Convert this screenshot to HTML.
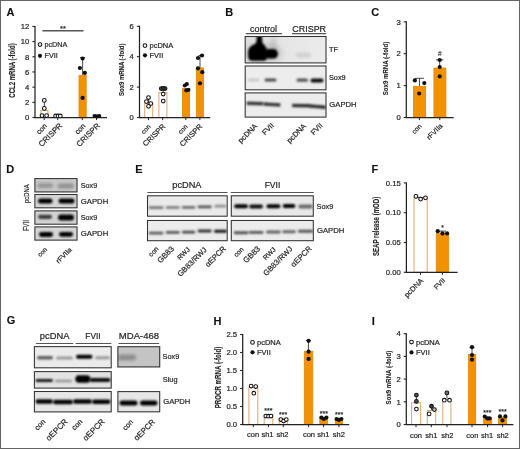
<!DOCTYPE html>
<html><head><meta charset="utf-8"><style>
html,body{margin:0;padding:0;background:#fff;width:520px;height:449px;overflow:hidden}
svg{display:block;font-family:"Liberation Sans", sans-serif;will-change:transform;filter:blur(0.3px)}
</style></head><body>
<svg width="520" height="449" viewBox="0 0 520 449">
<defs><filter id="bl1" x="-50%" y="-100%" width="200%" height="300%"><feGaussianBlur stdDeviation="0.9"/></filter><filter id="bl2" x="-50%" y="-100%" width="200%" height="300%"><feGaussianBlur stdDeviation="1.5"/></filter><filter id="bl3" x="-50%" y="-100%" width="200%" height="300%"><feGaussianBlur stdDeviation="2.5"/></filter><linearGradient id="gTF" x1="0" x2="1" y1="0" y2="0"><stop offset="0" stop-color="#dcdcdc"/><stop offset="0.5" stop-color="#e6e6e6"/><stop offset="1" stop-color="#ececec"/></linearGradient><clipPath id="cp1"><rect x="244.7" y="36.0" width="81.80000000000001" height="27.4"/></clipPath><clipPath id="cp2"><rect x="244.7" y="65.5" width="81.80000000000001" height="24.799999999999997"/></clipPath><clipPath id="cp3"><rect x="244.7" y="92.4" width="81.80000000000001" height="25.19999999999999"/></clipPath><clipPath id="cp4"><rect x="34.4" y="178.1" width="43.1" height="14.300000000000011"/></clipPath><clipPath id="cp5"><rect x="34.4" y="194.0" width="43.1" height="14.300000000000011"/></clipPath><clipPath id="cp6"><rect x="34.4" y="210.4" width="43.1" height="14.299999999999983"/></clipPath><clipPath id="cp7"><rect x="34.4" y="226.4" width="43.1" height="14.199999999999989"/></clipPath><clipPath id="cp8"><rect x="147.0" y="195.3" width="80.69999999999999" height="21.399999999999977"/></clipPath><clipPath id="cp9"><rect x="147.0" y="220.0" width="80.69999999999999" height="21.19999999999999"/></clipPath><clipPath id="cp10"><rect x="230.8" y="195.3" width="83.0" height="21.399999999999977"/></clipPath><clipPath id="cp11"><rect x="230.8" y="220.0" width="83.0" height="21.19999999999999"/></clipPath><clipPath id="cp12"><rect x="33.9" y="346.1" width="77.80000000000001" height="22.19999999999999"/></clipPath><clipPath id="cp13"><rect x="33.9" y="371.1" width="77.80000000000001" height="17.5"/></clipPath><clipPath id="cp14"><rect x="33.9" y="391.0" width="77.80000000000001" height="21.399999999999977"/></clipPath><clipPath id="cp15"><rect x="117.4" y="346.2" width="42.79999999999998" height="21.19999999999999"/></clipPath><clipPath id="cp16"><rect x="117.4" y="391.1" width="42.79999999999998" height="21.19999999999999"/></clipPath></defs>
<rect width="520" height="449" fill="#fff"/>
<rect x="0.5" y="0.5" width="519" height="448" fill="none" stroke="#646464" stroke-width="1"/>
<text x="6.6" y="15.8" font-size="11" text-anchor="start" font-weight="bold" fill="#111" stroke="#111" stroke-width="0.1">A</text>
<line x1="35.0" y1="25.92" x2="35.0" y2="118.1" stroke="#222" stroke-width="1.25"/>
<line x1="32.4" y1="117.5" x2="35.0" y2="117.5" stroke="#222" stroke-width="1.1"/>
<text x="29.4" y="120.25" font-size="7.7" text-anchor="end" fill="#222" stroke="#222" stroke-width="0.2">0</text>
<line x1="32.4" y1="102.32" x2="35.0" y2="102.32" stroke="#222" stroke-width="1.1"/>
<text x="29.4" y="105.07" font-size="7.7" text-anchor="end" fill="#222" stroke="#222" stroke-width="0.2">2</text>
<line x1="32.4" y1="87.14" x2="35.0" y2="87.14" stroke="#222" stroke-width="1.1"/>
<text x="29.4" y="89.89" font-size="7.7" text-anchor="end" fill="#222" stroke="#222" stroke-width="0.2">4</text>
<line x1="32.4" y1="71.96000000000001" x2="35.0" y2="71.96000000000001" stroke="#222" stroke-width="1.1"/>
<text x="29.4" y="74.71000000000001" font-size="7.7" text-anchor="end" fill="#222" stroke="#222" stroke-width="0.2">6</text>
<line x1="32.4" y1="56.78" x2="35.0" y2="56.78" stroke="#222" stroke-width="1.1"/>
<text x="29.4" y="59.53" font-size="7.7" text-anchor="end" fill="#222" stroke="#222" stroke-width="0.2">8</text>
<line x1="32.4" y1="41.599999999999994" x2="35.0" y2="41.599999999999994" stroke="#222" stroke-width="1.1"/>
<text x="29.4" y="44.349999999999994" font-size="7.7" text-anchor="end" fill="#222" stroke="#222" stroke-width="0.2">10</text>
<line x1="32.4" y1="26.42" x2="35.0" y2="26.42" stroke="#222" stroke-width="1.1"/>
<text x="29.4" y="29.17" font-size="7.7" text-anchor="end" fill="#222" stroke="#222" stroke-width="0.2">12</text>
<rect x="41.0" y="110.41" width="7.0" height="7.090000000000003" fill="white" stroke="#DDA56A" stroke-width="1"/>
<rect x="54.5" y="116.482" width="7" height="1.0180000000000007" fill="white" stroke="#DDA56A" stroke-width="1"/>
<rect x="79.0" y="75.39600000000002" width="7.2" height="42.10399999999999" fill="#F39200" stroke="#E2880E" stroke-width="0.8"/>
<rect x="92.9" y="116.98920000000001" width="7.2" height="0.5107999999999947" fill="#F39200" stroke="#E2880E" stroke-width="0.8"/>
<line x1="44.4" y1="100.4225" x2="44.4" y2="109.91" stroke="#1c1c1c" stroke-width="0.8"/>
<line x1="42.4" y1="100.4225" x2="46.4" y2="100.4225" stroke="#1c1c1c" stroke-width="0.8"/>
<line x1="82.6" y1="57.6" x2="82.6" y2="74.99600000000001" stroke="#1c1c1c" stroke-width="0.8"/>
<line x1="80.1" y1="57.6" x2="85.1" y2="57.6" stroke="#1c1c1c" stroke-width="0.8"/>
<line x1="34.4" y1="117.5" x2="107" y2="117.5" stroke="#222" stroke-width="1.25"/>
<line x1="44.2" y1="117.5" x2="44.2" y2="120.1" stroke="#222" stroke-width="1.0"/>
<line x1="57.7" y1="117.5" x2="57.7" y2="120.1" stroke="#222" stroke-width="1.0"/>
<line x1="82.3" y1="117.5" x2="82.3" y2="120.1" stroke="#222" stroke-width="1.0"/>
<line x1="96.5" y1="117.5" x2="96.5" y2="120.1" stroke="#222" stroke-width="1.0"/>
<circle cx="44.3" cy="100.4225" r="1.85" fill="white" stroke="#111" stroke-width="1.05"/>
<circle cx="44.3" cy="108.392" r="1.85" fill="white" stroke="#111" stroke-width="1.05"/>
<circle cx="42" cy="115.6025" r="1.85" fill="white" stroke="#111" stroke-width="1.05"/>
<circle cx="46.6" cy="115.6025" r="1.85" fill="white" stroke="#111" stroke-width="1.05"/>
<circle cx="55.6" cy="115.982" r="1.85" fill="white" stroke="#111" stroke-width="1.05"/>
<circle cx="58" cy="115.982" r="1.85" fill="white" stroke="#111" stroke-width="1.05"/>
<circle cx="60.3" cy="115.982" r="1.85" fill="white" stroke="#111" stroke-width="1.05"/>
<circle cx="82.6" cy="58.5" r="2.1" fill="#111"/>
<circle cx="79.9" cy="68.0" r="2.1" fill="#111"/>
<circle cx="84.8" cy="72.9" r="2.1" fill="#111"/>
<circle cx="82.6" cy="97.9" r="2.1" fill="#111"/>
<circle cx="94.6" cy="115.982" r="2.1" fill="#111"/>
<circle cx="97" cy="116.3615" r="2.1" fill="#111"/>
<circle cx="99.2" cy="115.982" r="2.1" fill="#111"/>
<line x1="42.4" y1="30.8" x2="83.5" y2="30.8" stroke="#555" stroke-width="1.4"/>
<text x="63" y="31.1" font-size="7.5" text-anchor="middle" fill="#222" stroke="#222" stroke-width="0.2">**</text>
<circle cx="40" cy="44.5" r="1.85" fill="white" stroke="#111" stroke-width="1.05"/>
<text x="44.5" y="47.1" font-size="7.2" text-anchor="start" fill="#222" stroke="#222" stroke-width="0.2">pcDNA</text>
<circle cx="40" cy="55.8" r="2.1" fill="#111"/>
<text x="44.5" y="58.4" font-size="7.2" text-anchor="start" fill="#222" stroke="#222" stroke-width="0.2">FVII</text>
<text x="14.6" y="70.5" font-size="8.6" text-anchor="middle" font-weight="bold" transform="rotate(-90 14.6 70.5)" textLength="54.3" lengthAdjust="spacingAndGlyphs" fill="#222" stroke="#222" stroke-width="0.1">CCL2 mRNA (-fold)</text>
<text x="47.5" y="126.4" font-size="7.3" text-anchor="end" transform="rotate(-45 47.5 126.4)" fill="#222" stroke="#222" stroke-width="0.2">con</text>
<text x="62.9" y="126.1" font-size="7.9" text-anchor="end" transform="rotate(-45 62.9 126.1)" fill="#222" stroke="#222" stroke-width="0.2">CRISPR</text>
<text x="86.0" y="126.4" font-size="7.3" text-anchor="end" transform="rotate(-45 86.0 126.4)" fill="#222" stroke="#222" stroke-width="0.2">con</text>
<text x="100.4" y="126.2" font-size="7.85" text-anchor="end" transform="rotate(-45 100.4 126.2)" fill="#222" stroke="#222" stroke-width="0.2">CRISPR</text>
<line x1="139.5" y1="25.80000000000001" x2="139.5" y2="118.1" stroke="#222" stroke-width="1.25"/>
<line x1="136.9" y1="117.5" x2="139.5" y2="117.5" stroke="#222" stroke-width="1.1"/>
<text x="133.9" y="120.25" font-size="7.7" text-anchor="end" fill="#222" stroke="#222" stroke-width="0.2">0</text>
<line x1="136.9" y1="87.1" x2="139.5" y2="87.1" stroke="#222" stroke-width="1.1"/>
<text x="133.9" y="89.85" font-size="7.7" text-anchor="end" fill="#222" stroke="#222" stroke-width="0.2">2</text>
<line x1="136.9" y1="56.7" x2="139.5" y2="56.7" stroke="#222" stroke-width="1.1"/>
<text x="133.9" y="59.45" font-size="7.7" text-anchor="end" fill="#222" stroke="#222" stroke-width="0.2">4</text>
<line x1="136.9" y1="26.30000000000001" x2="139.5" y2="26.30000000000001" stroke="#222" stroke-width="1.1"/>
<text x="133.9" y="29.05000000000001" font-size="7.7" text-anchor="end" fill="#222" stroke="#222" stroke-width="0.2">6</text>
<rect x="144.7" y="103.6" width="8.0" height="13.900000000000006" fill="white" stroke="#DDA56A" stroke-width="1"/>
<rect x="158.9" y="92.6" width="8.0" height="24.900000000000006" fill="white" stroke="#DDA56A" stroke-width="1"/>
<rect x="182.4" y="88.5" width="7.2" height="29.000000000000007" fill="#F39200" stroke="#E2880E" stroke-width="0.8"/>
<rect x="196.3" y="67.9" width="7.2999999999999945" height="49.6" fill="#F39200" stroke="#E2880E" stroke-width="0.8"/>
<line x1="148.7" y1="97.0" x2="148.7" y2="103.1" stroke="#1c1c1c" stroke-width="0.8"/>
<line x1="147.2" y1="97.0" x2="150.2" y2="97.0" stroke="#1c1c1c" stroke-width="0.8"/>
<line x1="163.2" y1="88.3" x2="163.2" y2="92.1" stroke="#1c1c1c" stroke-width="0.8"/>
<line x1="161.7" y1="88.3" x2="164.7" y2="88.3" stroke="#1c1c1c" stroke-width="0.8"/>
<line x1="200.0" y1="55.5" x2="200.0" y2="67.5" stroke="#1c1c1c" stroke-width="0.8"/>
<line x1="198.5" y1="55.5" x2="201.5" y2="55.5" stroke="#1c1c1c" stroke-width="0.8"/>
<line x1="138.9" y1="117.5" x2="210.2" y2="117.5" stroke="#222" stroke-width="1.25"/>
<line x1="148.5" y1="117.5" x2="148.5" y2="120.1" stroke="#222" stroke-width="1.0"/>
<line x1="162.7" y1="117.5" x2="162.7" y2="120.1" stroke="#222" stroke-width="1.0"/>
<line x1="185.8" y1="117.5" x2="185.8" y2="120.1" stroke="#222" stroke-width="1.0"/>
<line x1="199.9" y1="117.5" x2="199.9" y2="120.1" stroke="#222" stroke-width="1.0"/>
<circle cx="148.5" cy="97.5" r="1.85" fill="white" stroke="#111" stroke-width="1.05"/>
<circle cx="146.4" cy="101.6" r="1.85" fill="white" stroke="#111" stroke-width="1.05"/>
<circle cx="150.8" cy="103.6" r="1.85" fill="white" stroke="#111" stroke-width="1.05"/>
<circle cx="148.5" cy="106.3" r="1.85" fill="white" stroke="#111" stroke-width="1.05"/>
<circle cx="161.3" cy="88.6" r="1.85" fill="#555" stroke="#111" stroke-width="1.05"/>
<circle cx="165.1" cy="88.6" r="1.85" fill="#555" stroke="#111" stroke-width="1.05"/>
<circle cx="163.2" cy="88.3" r="1.85" fill="#333" stroke="#111" stroke-width="1.05"/>
<circle cx="163.2" cy="94" r="1.85" fill="white" stroke="#111" stroke-width="1.05"/>
<circle cx="163.2" cy="101" r="1.85" fill="white" stroke="#111" stroke-width="1.05"/>
<circle cx="184.8" cy="85.5" r="2.1" fill="#111"/>
<circle cx="186.8" cy="84" r="2.1" fill="#111"/>
<circle cx="186.2" cy="90.3" r="2.1" fill="#111"/>
<circle cx="188.4" cy="89.8" r="2.1" fill="#111"/>
<circle cx="198" cy="58" r="2.1" fill="#111"/>
<circle cx="202" cy="55.5" r="2.1" fill="#111"/>
<circle cx="198" cy="68.3" r="2.1" fill="#111"/>
<circle cx="202.3" cy="72.2" r="2.1" fill="#111"/>
<circle cx="200" cy="83.3" r="2.1" fill="#111"/>
<circle cx="145" cy="45.6" r="1.85" fill="white" stroke="#111" stroke-width="1.05"/>
<text x="149.5" y="48.2" font-size="7.5" text-anchor="start" fill="#222" stroke="#222" stroke-width="0.2">pcDNA</text>
<circle cx="145" cy="55.3" r="2.1" fill="#111"/>
<text x="149.5" y="57.9" font-size="7.5" text-anchor="start" fill="#222" stroke="#222" stroke-width="0.2">FVII</text>
<text x="124.1" y="69.7" font-size="7.6" text-anchor="middle" font-weight="bold" transform="rotate(-90 124.1 69.7)" textLength="52.4" lengthAdjust="spacingAndGlyphs" fill="#222" stroke="#222" stroke-width="0.1">Sox9 mRNA (-fold)</text>
<text x="151.1" y="127.1" font-size="6.4" text-anchor="end" transform="rotate(-45 151.1 127.1)" fill="#222" stroke="#222" stroke-width="0.2">con</text>
<text x="165.9" y="126.8" font-size="7.5" text-anchor="end" transform="rotate(-45 165.9 126.8)" fill="#222" stroke="#222" stroke-width="0.2">CRISPR</text>
<text x="188.0" y="127.1" font-size="6.4" text-anchor="end" transform="rotate(-45 188.0 127.1)" fill="#222" stroke="#222" stroke-width="0.2">con</text>
<text x="202.9" y="126.9" font-size="7.5" text-anchor="end" transform="rotate(-45 202.9 126.9)" fill="#222" stroke="#222" stroke-width="0.2">CRISPR</text>
<text x="225.3" y="15.6" font-size="11" text-anchor="start" font-weight="bold" fill="#111" stroke="#111" stroke-width="0.1">B</text>
<text x="263.5" y="31.6" font-size="9" text-anchor="middle" textLength="26.9" lengthAdjust="spacingAndGlyphs" fill="#222" stroke="#222" stroke-width="0.2">control</text>
<text x="309.2" y="31.6" font-size="9" text-anchor="middle" textLength="33.7" lengthAdjust="spacingAndGlyphs" fill="#222" stroke="#222" stroke-width="0.2">CRISPR</text>
<line x1="245.8" y1="33.6" x2="281.9" y2="33.6" stroke="#555" stroke-width="1.1"/>
<line x1="292.0" y1="33.6" x2="326.2" y2="33.6" stroke="#555" stroke-width="1.1"/>
<text x="371.2" y="15.6" font-size="11" text-anchor="start" font-weight="bold" fill="#111" stroke="#111" stroke-width="0.1">C</text>
<line x1="406.3" y1="21.30000000000001" x2="406.3" y2="118.1" stroke="#222" stroke-width="1.25"/>
<line x1="403.7" y1="117.5" x2="406.3" y2="117.5" stroke="#222" stroke-width="1.1"/>
<text x="400.7" y="120.25" font-size="7.7" text-anchor="end" fill="#222" stroke="#222" stroke-width="0.2">0</text>
<line x1="403.7" y1="85.6" x2="406.3" y2="85.6" stroke="#222" stroke-width="1.1"/>
<text x="400.7" y="88.35" font-size="7.7" text-anchor="end" fill="#222" stroke="#222" stroke-width="0.2">1</text>
<line x1="403.7" y1="53.7" x2="406.3" y2="53.7" stroke="#222" stroke-width="1.1"/>
<text x="400.7" y="56.45" font-size="7.7" text-anchor="end" fill="#222" stroke="#222" stroke-width="0.2">2</text>
<line x1="403.7" y1="21.80000000000001" x2="406.3" y2="21.80000000000001" stroke="#222" stroke-width="1.1"/>
<text x="400.7" y="24.55000000000001" font-size="7.7" text-anchor="end" fill="#222" stroke="#222" stroke-width="0.2">3</text>
<rect x="413.4" y="86.30000000000001" width="12.2" height="31.199999999999996" fill="#F39200" stroke="#E2880E" stroke-width="0.8"/>
<rect x="433.9" y="68.0" width="12.00000000000001" height="49.50000000000001" fill="#F39200" stroke="#E2880E" stroke-width="0.8"/>
<line x1="419.5" y1="78.3" x2="419.5" y2="85.9" stroke="#1c1c1c" stroke-width="0.8"/>
<line x1="415.0" y1="78.3" x2="424.0" y2="78.3" stroke="#1c1c1c" stroke-width="0.8"/>
<line x1="439.7" y1="59.8" x2="439.7" y2="67.6" stroke="#1c1c1c" stroke-width="0.8"/>
<line x1="436.0" y1="59.8" x2="443.4" y2="59.8" stroke="#1c1c1c" stroke-width="0.8"/>
<line x1="405.7" y1="117.5" x2="453.7" y2="117.5" stroke="#222" stroke-width="1.25"/>
<line x1="419.4" y1="117.5" x2="419.4" y2="120.1" stroke="#222" stroke-width="1.0"/>
<line x1="439.8" y1="117.5" x2="439.8" y2="120.1" stroke="#222" stroke-width="1.0"/>
<circle cx="414.9" cy="80.4" r="2.1" fill="#111"/>
<circle cx="424.3" cy="83.1" r="2.1" fill="#111"/>
<circle cx="419.2" cy="93.5" r="2.1" fill="#111"/>
<circle cx="439.7" cy="60.0" r="2.1" fill="#111"/>
<circle cx="439.7" cy="67.0" r="2.1" fill="#111"/>
<circle cx="439.7" cy="76.4" r="2.1" fill="#111"/>
<text x="439.7" y="56.0" font-size="6.4" text-anchor="middle" fill="#555" stroke="#555" stroke-width="0.2">#</text>
<text x="388.3" y="68.5" font-size="6.9" text-anchor="middle" font-weight="bold" transform="rotate(-90 388.3 68.5)" textLength="53.6" lengthAdjust="spacingAndGlyphs" fill="#222" stroke="#222" stroke-width="0.1">Sox9 mRNA (-fold)</text>
<text x="422.2" y="126.7" font-size="6.75" text-anchor="end" transform="rotate(-45 422.2 126.7)" fill="#222" stroke="#222" stroke-width="0.2">con</text>
<text x="443.2" y="126.4" font-size="7.15" text-anchor="end" transform="rotate(-45 443.2 126.4)" fill="#222" stroke="#222" stroke-width="0.2">rFVIIa</text>
<text x="6.3" y="172.8" font-size="11" text-anchor="start" font-weight="bold" fill="#111" stroke="#111" stroke-width="0.1">D</text>
<text x="135.3" y="172.9" font-size="11" text-anchor="start" font-weight="bold" fill="#111" stroke="#111" stroke-width="0.1">E</text>
<text x="186.9" y="187.7" font-size="9.2" text-anchor="middle" textLength="29.2" lengthAdjust="spacingAndGlyphs" fill="#222" stroke="#222" stroke-width="0.2">pcDNA</text>
<text x="272.5" y="187.5" font-size="9.2" text-anchor="middle" textLength="15.7" lengthAdjust="spacingAndGlyphs" fill="#222" stroke="#222" stroke-width="0.2">FVII</text>
<line x1="147.3" y1="192.5" x2="227.5" y2="192.5" stroke="#555" stroke-width="1.1"/>
<line x1="230.8" y1="192.5" x2="313.8" y2="192.5" stroke="#555" stroke-width="1.1"/>
<text x="371.6" y="172.7" font-size="11" text-anchor="start" font-weight="bold" fill="#111" stroke="#111" stroke-width="0.1">F</text>
<line x1="406.4" y1="182.40000000000003" x2="406.4" y2="272.90000000000003" stroke="#222" stroke-width="1.25"/>
<line x1="403.79999999999995" y1="272.3" x2="406.4" y2="272.3" stroke="#222" stroke-width="1.1"/>
<text x="400.79999999999995" y="275.05" font-size="7.7" text-anchor="end" fill="#222" stroke="#222" stroke-width="0.2">0.00</text>
<line x1="403.79999999999995" y1="242.5" x2="406.4" y2="242.5" stroke="#222" stroke-width="1.1"/>
<text x="400.79999999999995" y="245.25" font-size="7.7" text-anchor="end" fill="#222" stroke="#222" stroke-width="0.2">0.05</text>
<line x1="403.79999999999995" y1="212.70000000000002" x2="406.4" y2="212.70000000000002" stroke="#222" stroke-width="1.1"/>
<text x="400.79999999999995" y="215.45000000000002" font-size="7.7" text-anchor="end" fill="#222" stroke="#222" stroke-width="0.2">0.10</text>
<line x1="403.79999999999995" y1="182.90000000000003" x2="406.4" y2="182.90000000000003" stroke="#222" stroke-width="1.1"/>
<text x="400.79999999999995" y="185.65000000000003" font-size="7.7" text-anchor="end" fill="#222" stroke="#222" stroke-width="0.2">0.15</text>
<rect x="414.0" y="198.0" width="13.199999999999989" height="74.30000000000001" fill="white" stroke="#DDA56A" stroke-width="1"/>
<rect x="436.2" y="233.20000000000002" width="12.50000000000001" height="39.1" fill="#F39200" stroke="#E2880E" stroke-width="0.8"/>
<line x1="405.79999999999995" y1="272.3" x2="457.6" y2="272.3" stroke="#222" stroke-width="1.25"/>
<line x1="420.5" y1="272.3" x2="420.5" y2="274.90000000000003" stroke="#222" stroke-width="1.0"/>
<line x1="442.4" y1="272.3" x2="442.4" y2="274.90000000000003" stroke="#222" stroke-width="1.0"/>
<line x1="420.7" y1="197.4" x2="420.7" y2="198.0" stroke="#1c1c1c" stroke-width="0.8"/>
<line x1="417.7" y1="197.4" x2="423.7" y2="197.4" stroke="#1c1c1c" stroke-width="0.8"/>
<circle cx="415.9" cy="196.3" r="1.85" fill="white" stroke="#111" stroke-width="1.05"/>
<circle cx="420.6" cy="199.1" r="1.85" fill="white" stroke="#111" stroke-width="1.05"/>
<circle cx="425.5" cy="197.8" r="1.85" fill="white" stroke="#111" stroke-width="1.05"/>
<line x1="441.8" y1="231.1" x2="441.8" y2="232.9" stroke="#1c1c1c" stroke-width="0.8"/>
<line x1="437.6" y1="231.1" x2="446.0" y2="231.1" stroke="#1c1c1c" stroke-width="0.8"/>
<circle cx="437.7" cy="231.2" r="2.1" fill="#111"/>
<circle cx="442.5" cy="233.6" r="2.1" fill="#111"/>
<circle cx="447.1" cy="233.4" r="2.1" fill="#111"/>
<text x="442.5" y="229.7" font-size="6.5" text-anchor="middle" fill="#222" stroke="#222" stroke-width="0.2">*</text>
<text x="379.3" y="226.4" font-size="8.5" text-anchor="middle" font-weight="bold" transform="rotate(-90 379.3 226.4)" textLength="59.3" lengthAdjust="spacingAndGlyphs" fill="#222" stroke="#222" stroke-width="0.1">SEAP release (mOD)</text>
<text x="423.8" y="281.3" font-size="7.45" text-anchor="end" transform="rotate(-45 423.8 281.3)" fill="#222" stroke="#222" stroke-width="0.2">pcDNA</text>
<text x="445.7" y="281.0" font-size="6.9" text-anchor="end" transform="rotate(-45 445.7 281.0)" fill="#222" stroke="#222" stroke-width="0.2">FVII</text>
<text x="6.8" y="324.3" font-size="11" text-anchor="start" font-weight="bold" fill="#111" stroke="#111" stroke-width="0.1">G</text>
<text x="54.6" y="338.7" font-size="9.4" text-anchor="middle" textLength="29.6" lengthAdjust="spacingAndGlyphs" fill="#222" stroke="#222" stroke-width="0.2">pcDNA</text>
<text x="93.0" y="338.7" font-size="9.4" text-anchor="middle" textLength="15.4" lengthAdjust="spacingAndGlyphs" fill="#222" stroke="#222" stroke-width="0.2">FVII</text>
<text x="139.0" y="338.7" font-size="9.4" text-anchor="middle" textLength="40.3" lengthAdjust="spacingAndGlyphs" fill="#222" stroke="#222" stroke-width="0.2">MDA-468</text>
<line x1="36.0" y1="343.5" x2="73.2" y2="343.5" stroke="#555" stroke-width="1.1"/>
<line x1="75.7" y1="343.5" x2="111.3" y2="343.5" stroke="#555" stroke-width="1.1"/>
<line x1="118.5" y1="343.5" x2="159.2" y2="343.5" stroke="#555" stroke-width="1.1"/>
<text x="213.5" y="324.5" font-size="11" text-anchor="start" font-weight="bold" fill="#111" stroke="#111" stroke-width="0.1">H</text>
<line x1="242.7" y1="334.0" x2="242.7" y2="425.1" stroke="#222" stroke-width="1.25"/>
<line x1="240.1" y1="424.5" x2="242.7" y2="424.5" stroke="#222" stroke-width="1.1"/>
<text x="237.1" y="427.25" font-size="7.7" text-anchor="end" fill="#222" stroke="#222" stroke-width="0.2">0.0</text>
<line x1="240.1" y1="406.5" x2="242.7" y2="406.5" stroke="#222" stroke-width="1.1"/>
<text x="237.1" y="409.25" font-size="7.7" text-anchor="end" fill="#222" stroke="#222" stroke-width="0.2">0.5</text>
<line x1="240.1" y1="388.5" x2="242.7" y2="388.5" stroke="#222" stroke-width="1.1"/>
<text x="237.1" y="391.25" font-size="7.7" text-anchor="end" fill="#222" stroke="#222" stroke-width="0.2">1.0</text>
<line x1="240.1" y1="370.5" x2="242.7" y2="370.5" stroke="#222" stroke-width="1.1"/>
<text x="237.1" y="373.25" font-size="7.7" text-anchor="end" fill="#222" stroke="#222" stroke-width="0.2">1.5</text>
<line x1="240.1" y1="352.5" x2="242.7" y2="352.5" stroke="#222" stroke-width="1.1"/>
<text x="237.1" y="355.25" font-size="7.7" text-anchor="end" fill="#222" stroke="#222" stroke-width="0.2">2.0</text>
<line x1="240.1" y1="334.5" x2="242.7" y2="334.5" stroke="#222" stroke-width="1.1"/>
<text x="237.1" y="337.25" font-size="7.7" text-anchor="end" fill="#222" stroke="#222" stroke-width="0.2">2.5</text>
<rect x="248.9" y="387.6" width="8.900000000000006" height="36.89999999999998" fill="white" stroke="#DDA56A" stroke-width="1"/>
<rect x="264.2" y="415.1" width="8.600000000000023" height="9.399999999999977" fill="white" stroke="#DDA56A" stroke-width="1"/>
<rect x="279.2" y="418.6" width="8.100000000000023" height="5.899999999999977" fill="white" stroke="#DDA56A" stroke-width="1"/>
<rect x="304.29999999999995" y="351.29999999999995" width="8.50000000000001" height="73.20000000000002" fill="#F39200" stroke="#E2880E" stroke-width="0.8"/>
<rect x="319.79999999999995" y="417.59999999999997" width="7.7" height="6.900000000000011" fill="#F39200" stroke="#E2880E" stroke-width="0.8"/>
<rect x="335.29999999999995" y="418.9" width="7.2" height="5.6" fill="#F39200" stroke="#E2880E" stroke-width="0.8"/>
<line x1="308.4" y1="340.5" x2="308.4" y2="350.9" stroke="#1c1c1c" stroke-width="0.8"/>
<line x1="305.9" y1="340.5" x2="310.9" y2="340.5" stroke="#1c1c1c" stroke-width="0.8"/>
<line x1="242.1" y1="424.5" x2="349.2" y2="424.5" stroke="#222" stroke-width="1.25"/>
<line x1="253.3" y1="424.5" x2="253.3" y2="427.1" stroke="#222" stroke-width="1.0"/>
<line x1="268.5" y1="424.5" x2="268.5" y2="427.1" stroke="#222" stroke-width="1.0"/>
<line x1="283.3" y1="424.5" x2="283.3" y2="427.1" stroke="#222" stroke-width="1.0"/>
<line x1="308.6" y1="424.5" x2="308.6" y2="427.1" stroke="#222" stroke-width="1.0"/>
<line x1="323.6" y1="424.5" x2="323.6" y2="427.1" stroke="#222" stroke-width="1.0"/>
<line x1="338.9" y1="424.5" x2="338.9" y2="427.1" stroke="#222" stroke-width="1.0"/>
<circle cx="251.1" cy="386" r="1.85" fill="white" stroke="#111" stroke-width="1.05"/>
<circle cx="255.7" cy="386.5" r="1.85" fill="white" stroke="#111" stroke-width="1.05"/>
<circle cx="253.8" cy="393.2" r="1.85" fill="white" stroke="#111" stroke-width="1.05"/>
<circle cx="265.8" cy="416" r="1.85" fill="white" stroke="#111" stroke-width="1.05"/>
<circle cx="268.5" cy="416.2" r="1.85" fill="white" stroke="#111" stroke-width="1.05"/>
<circle cx="271" cy="416" r="1.85" fill="white" stroke="#111" stroke-width="1.05"/>
<circle cx="280.8" cy="419.5" r="1.85" fill="white" stroke="#111" stroke-width="1.05"/>
<circle cx="283.6" cy="421" r="1.85" fill="white" stroke="#111" stroke-width="1.05"/>
<circle cx="286.3" cy="419.5" r="1.85" fill="white" stroke="#111" stroke-width="1.05"/>
<circle cx="308.6" cy="340.8" r="2.1" fill="#111"/>
<circle cx="308.6" cy="351.7" r="2.1" fill="#111"/>
<circle cx="308.6" cy="358.9" r="2.1" fill="#111"/>
<circle cx="321.4" cy="417.6" r="2.1" fill="#111"/>
<circle cx="323.8" cy="419" r="2.1" fill="#111"/>
<circle cx="326.4" cy="417.6" r="2.1" fill="#111"/>
<circle cx="336.6" cy="419" r="2.1" fill="#111"/>
<circle cx="338.8" cy="419.9" r="2.1" fill="#111"/>
<circle cx="341.4" cy="419" r="2.1" fill="#111"/>
<text x="268.3" y="413.3" font-size="7" text-anchor="middle" fill="#222" stroke="#222" stroke-width="0.2">***</text>
<text x="283.2" y="416.9" font-size="7" text-anchor="middle" fill="#222" stroke="#222" stroke-width="0.2">***</text>
<text x="323.8" y="415.8" font-size="7" text-anchor="middle" fill="#222" stroke="#222" stroke-width="0.2">***</text>
<text x="339.2" y="417.0" font-size="7" text-anchor="middle" fill="#222" stroke="#222" stroke-width="0.2">***</text>
<circle cx="252.5" cy="342.4" r="1.85" fill="white" stroke="#111" stroke-width="1.05"/>
<text x="257.0" y="345.0" font-size="7.5" text-anchor="start" fill="#222" stroke="#222" stroke-width="0.2">pcDNA</text>
<circle cx="252.5" cy="352.3" r="2.1" fill="#111"/>
<text x="257.0" y="354.90000000000003" font-size="7.5" text-anchor="start" fill="#222" stroke="#222" stroke-width="0.2">FVII</text>
<text x="221.3" y="377.5" font-size="8.5" text-anchor="middle" font-weight="bold" transform="rotate(-90 221.3 377.5)" textLength="61.6" lengthAdjust="spacingAndGlyphs" fill="#222" stroke="#222" stroke-width="0.1">PROCR mRNA (-fold)</text>
<text x="253.1" y="437.4" font-size="7.5" text-anchor="middle" fill="#222" stroke="#222" stroke-width="0.2">con</text>
<text x="267.5" y="437.4" font-size="7.5" text-anchor="middle" fill="#222" stroke="#222" stroke-width="0.2">sh1</text>
<text x="282.5" y="437.4" font-size="7.5" text-anchor="middle" fill="#222" stroke="#222" stroke-width="0.2">sh2</text>
<text x="309" y="437.4" font-size="7.5" text-anchor="middle" fill="#222" stroke="#222" stroke-width="0.2">con</text>
<text x="323.4" y="437.4" font-size="7.5" text-anchor="middle" fill="#222" stroke="#222" stroke-width="0.2">sh1</text>
<text x="338.8" y="437.4" font-size="7.5" text-anchor="middle" fill="#222" stroke="#222" stroke-width="0.2">sh2</text>
<text x="371.7" y="324.6" font-size="11" text-anchor="start" font-weight="bold" fill="#111" stroke="#111" stroke-width="0.1">I</text>
<line x1="406.3" y1="333.2" x2="406.3" y2="425.1" stroke="#222" stroke-width="1.25"/>
<line x1="403.7" y1="424.5" x2="406.3" y2="424.5" stroke="#222" stroke-width="1.1"/>
<text x="400.7" y="427.25" font-size="7.7" text-anchor="end" fill="#222" stroke="#222" stroke-width="0.2">0</text>
<line x1="403.7" y1="401.8" x2="406.3" y2="401.8" stroke="#222" stroke-width="1.1"/>
<text x="400.7" y="404.55" font-size="7.7" text-anchor="end" fill="#222" stroke="#222" stroke-width="0.2">1</text>
<line x1="403.7" y1="379.1" x2="406.3" y2="379.1" stroke="#222" stroke-width="1.1"/>
<text x="400.7" y="381.85" font-size="7.7" text-anchor="end" fill="#222" stroke="#222" stroke-width="0.2">2</text>
<line x1="403.7" y1="356.4" x2="406.3" y2="356.4" stroke="#222" stroke-width="1.1"/>
<text x="400.7" y="359.15" font-size="7.7" text-anchor="end" fill="#222" stroke="#222" stroke-width="0.2">3</text>
<line x1="403.7" y1="333.7" x2="406.3" y2="333.7" stroke="#222" stroke-width="1.1"/>
<text x="400.7" y="336.45" font-size="7.7" text-anchor="end" fill="#222" stroke="#222" stroke-width="0.2">4</text>
<rect x="411.6" y="402.8" width="9.0" height="21.69999999999999" fill="white" stroke="#DDA56A" stroke-width="1"/>
<rect x="427.3" y="410.5" width="8.399999999999977" height="14.0" fill="white" stroke="#DDA56A" stroke-width="1"/>
<rect x="442.8" y="399.5" width="8.099999999999966" height="25.0" fill="white" stroke="#DDA56A" stroke-width="1"/>
<rect x="468.4" y="354.53" width="7.300000000000023" height="69.97" fill="#F39200" stroke="#E2880E" stroke-width="0.8"/>
<rect x="483.7" y="417.59999999999997" width="8.00000000000001" height="6.900000000000011" fill="#F39200" stroke="#E2880E" stroke-width="0.8"/>
<rect x="498.59999999999997" y="417.59999999999997" width="7.800000000000023" height="6.900000000000011" fill="#F39200" stroke="#E2880E" stroke-width="0.8"/>
<line x1="416.4" y1="395.1" x2="416.4" y2="401.8" stroke="#1c1c1c" stroke-width="0.8"/>
<line x1="414.9" y1="395.1" x2="417.9" y2="395.1" stroke="#1c1c1c" stroke-width="0.8"/>
<line x1="431.5" y1="406.2" x2="431.5" y2="410.199" stroke="#1c1c1c" stroke-width="0.8"/>
<line x1="430.0" y1="406.2" x2="433.0" y2="406.2" stroke="#1c1c1c" stroke-width="0.8"/>
<line x1="446.9" y1="392.9" x2="446.9" y2="398.395" stroke="#1c1c1c" stroke-width="0.8"/>
<line x1="445.4" y1="392.9" x2="448.4" y2="392.9" stroke="#1c1c1c" stroke-width="0.8"/>
<line x1="472.0" y1="347.2" x2="472.0" y2="354.13" stroke="#1c1c1c" stroke-width="0.8"/>
<line x1="469.5" y1="347.2" x2="474.5" y2="347.2" stroke="#1c1c1c" stroke-width="0.8"/>
<line x1="405.7" y1="424.5" x2="513.4" y2="424.5" stroke="#222" stroke-width="1.25"/>
<line x1="416" y1="424.5" x2="416" y2="427.1" stroke="#222" stroke-width="1.0"/>
<line x1="431.3" y1="424.5" x2="431.3" y2="427.1" stroke="#222" stroke-width="1.0"/>
<line x1="447" y1="424.5" x2="447" y2="427.1" stroke="#222" stroke-width="1.0"/>
<line x1="472" y1="424.5" x2="472" y2="427.1" stroke="#222" stroke-width="1.0"/>
<line x1="487.6" y1="424.5" x2="487.6" y2="427.1" stroke="#222" stroke-width="1.0"/>
<line x1="502.6" y1="424.5" x2="502.6" y2="427.1" stroke="#222" stroke-width="1.0"/>
<circle cx="416.4" cy="395.1" r="1.85" fill="#4a5260" stroke="#111" stroke-width="1.05"/>
<circle cx="416.4" cy="401.4" r="1.85" fill="#4a5260" stroke="#111" stroke-width="1.05"/>
<circle cx="416.4" cy="409.1" r="1.85" fill="white" stroke="#111" stroke-width="1.05"/>
<circle cx="431.5" cy="406.2" r="1.85" fill="#3a4250" stroke="#111" stroke-width="1.05"/>
<circle cx="434.4" cy="409.6" r="1.85" fill="#c8c8c8" stroke="#111" stroke-width="1.05"/>
<circle cx="429.1" cy="413.9" r="1.85" fill="white" stroke="#111" stroke-width="1.05"/>
<circle cx="446.9" cy="392.9" r="1.85" fill="#6a7280" stroke="#111" stroke-width="1.05"/>
<circle cx="444.3" cy="400.2" r="1.85" fill="white" stroke="#111" stroke-width="1.05"/>
<circle cx="449.5" cy="400.2" r="1.85" fill="white" stroke="#111" stroke-width="1.05"/>
<circle cx="472" cy="347.2" r="2.1" fill="#111"/>
<circle cx="472" cy="355" r="2.1" fill="#111"/>
<circle cx="472" cy="359.7" r="2.1" fill="#111"/>
<circle cx="484.8" cy="416.5" r="2.1" fill="#111"/>
<circle cx="487.4" cy="418.4" r="2.1" fill="#111"/>
<circle cx="489.6" cy="418.4" r="2.1" fill="#111"/>
<circle cx="500" cy="416.4" r="2.1" fill="#111"/>
<circle cx="505.4" cy="416.4" r="2.1" fill="#111"/>
<circle cx="502.5" cy="420.4" r="2.1" fill="#111"/>
<text x="487.4" y="414.7" font-size="7" text-anchor="middle" fill="#222" stroke="#222" stroke-width="0.2">***</text>
<text x="502.6" y="414.2" font-size="7" text-anchor="middle" fill="#222" stroke="#222" stroke-width="0.2">***</text>
<circle cx="411.5" cy="342.0" r="1.85" fill="white" stroke="#111" stroke-width="1.05"/>
<text x="416.0" y="344.6" font-size="7.5" text-anchor="start" fill="#222" stroke="#222" stroke-width="0.2">pcDNA</text>
<circle cx="411.5" cy="352.4" r="2.1" fill="#111"/>
<text x="416.0" y="355.0" font-size="7.5" text-anchor="start" fill="#222" stroke="#222" stroke-width="0.2">FVII</text>
<text x="390.7" y="377.6" font-size="8.0" text-anchor="middle" font-weight="bold" transform="rotate(-90 390.7 377.6)" textLength="53.6" lengthAdjust="spacingAndGlyphs" fill="#222" stroke="#222" stroke-width="0.1">Sox9 mRNA (-fold)</text>
<text x="416" y="437.9" font-size="7.5" text-anchor="middle" fill="#222" stroke="#222" stroke-width="0.2">con</text>
<text x="431.3" y="437.9" font-size="7.5" text-anchor="middle" fill="#222" stroke="#222" stroke-width="0.2">sh1</text>
<text x="447.3" y="437.9" font-size="7.5" text-anchor="middle" fill="#222" stroke="#222" stroke-width="0.2">sh2</text>
<text x="472.3" y="437.9" font-size="7.5" text-anchor="middle" fill="#222" stroke="#222" stroke-width="0.2">con</text>
<text x="487.1" y="437.9" font-size="7.5" text-anchor="middle" fill="#222" stroke="#222" stroke-width="0.2">sh1</text>
<text x="502.7" y="437.9" font-size="7.5" text-anchor="middle" fill="#222" stroke="#222" stroke-width="0.2">sh2</text>
<rect x="244.7" y="36.0" width="81.80000000000001" height="27.4" fill="url(#gTF)" stroke="none" stroke-width="1"/>
<g clip-path="url(#cp1)">
<rect x="246" y="44.0" width="36" height="18" rx="9.0" fill="#000" fill-opacity="0.12" filter="url(#bl3)"/>
<rect x="270" y="37.0" width="7" height="14" rx="3.5" fill="#000" fill-opacity="0.08" filter="url(#bl2)"/>
<rect x="296" y="52.5" width="15" height="5" rx="2.5" fill="#000" fill-opacity="0.1" filter="url(#bl2)"/>
<path d="M256.6 35.5 L262 35.5 L262.4 43 C264.5 45 266.6 47 266.8 50 L266.8 58.5 C266.5 60.2 265 60.8 263 60.8 L252 60.8 C249.5 60.8 248.2 59 248.2 56.5 L248.2 52 C248.2 48.5 251 45.5 254 44.5 C255.6 43.8 256.4 42.5 256.6 40 Z" fill="#000" filter="url(#bl1)"/>
<rect x="263.5" y="49.0" width="14.5" height="9.6" rx="4.8" fill="#000" fill-opacity="1.0" filter="url(#bl1)"/>
</g>
<rect x="245.2" y="36.5" width="80.80000000000001" height="26.4" fill="none" stroke="#333" stroke-width="1.05"/>
<rect x="244.7" y="65.5" width="81.80000000000001" height="24.799999999999997" fill="#ededed" stroke="none" stroke-width="1"/>
<g clip-path="url(#cp2)">
<rect x="247.5" y="78.75" width="12.0" height="2.5" rx="1.25" fill="#000" fill-opacity="0.18" filter="url(#bl1)"/>
<rect x="264.5" y="78.4" width="12.0" height="3.2" rx="1.6" fill="#000" fill-opacity="0.7" filter="url(#bl1)"/>
<rect x="296.5" y="78.60000000000001" width="11.5" height="3.2" rx="1.6" fill="#000" fill-opacity="0.65" filter="url(#bl1)"/>
<rect x="310.5" y="78.4" width="13.0" height="4.0" rx="2.0" fill="#000" fill-opacity="0.95" filter="url(#bl1)"/>
</g>
<rect x="245.2" y="66.0" width="80.80000000000001" height="23.799999999999997" fill="none" stroke="#333" stroke-width="1.05"/>
<rect x="244.7" y="92.4" width="81.80000000000001" height="25.19999999999999" fill="#ececec" stroke="none" stroke-width="1"/>
<g clip-path="url(#cp3)">
<g filter="url(#bl1)"><path d="M247 102.0 L263 102.4 L263 105.0 L247 104.6 Z" fill="#000" fill-opacity="0.8" stroke="#000" stroke-opacity="0.8" stroke-linejoin="round" stroke-width="0.65"/></g>
<g filter="url(#bl1)"><path d="M264 102.7 L280 103.7 L280 106.3 L264 105.3 Z" fill="#000" fill-opacity="0.8" stroke="#000" stroke-opacity="0.8" stroke-linejoin="round" stroke-width="0.65"/></g>
<g filter="url(#bl1)"><path d="M292.5 104.2 L310 104.5 L310 107.1 L292.5 106.8 Z" fill="#000" fill-opacity="0.85" stroke="#000" stroke-opacity="0.85" stroke-linejoin="round" stroke-width="0.65"/></g>
<g filter="url(#bl1)"><path d="M310 104.7 L325.5 106.0 L325.5 108.6 L310 107.3 Z" fill="#000" fill-opacity="0.85" stroke="#000" stroke-opacity="0.85" stroke-linejoin="round" stroke-width="0.65"/></g>
</g>
<rect x="245.2" y="92.9" width="80.80000000000001" height="24.19999999999999" fill="none" stroke="#333" stroke-width="1.05"/>
<text x="329.0" y="52.0" font-size="7.7" text-anchor="start" textLength="9.0" lengthAdjust="spacingAndGlyphs" fill="#222" stroke="#222" stroke-width="0.2">TF</text>
<text x="329.0" y="80.2" font-size="7.7" text-anchor="start" textLength="16.6" lengthAdjust="spacingAndGlyphs" fill="#222" stroke="#222" stroke-width="0.2">Sox9</text>
<text x="329.3" y="107.2" font-size="7.7" text-anchor="start" textLength="27.3" lengthAdjust="spacingAndGlyphs" fill="#222" stroke="#222" stroke-width="0.2">GAPDH</text>
<text x="257.9" y="126.6" font-size="7.5" text-anchor="end" transform="rotate(-45 257.9 126.6)" fill="#222" stroke="#222" stroke-width="0.2">pcDNA</text>
<text x="274.5" y="126.0" font-size="7.3" text-anchor="end" transform="rotate(-45 274.5 126.0)" fill="#222" stroke="#222" stroke-width="0.2">FVII</text>
<text x="306.6" y="126.6" font-size="7.5" text-anchor="end" transform="rotate(-45 306.6 126.6)" fill="#222" stroke="#222" stroke-width="0.2">pcDNA</text>
<text x="323.2" y="126.0" font-size="7.3" text-anchor="end" transform="rotate(-45 323.2 126.0)" fill="#222" stroke="#222" stroke-width="0.2">FVII</text>
<rect x="34.4" y="178.1" width="43.1" height="14.300000000000011" fill="#c8c8c8" stroke="none" stroke-width="1"/>
<g clip-path="url(#cp4)">
<rect x="37.3" y="183.1" width="15.800000000000004" height="5" rx="2.5" fill="#000" fill-opacity="0.25" filter="url(#bl2)"/>
<rect x="57.5" y="183.4" width="16.599999999999994" height="5" rx="2.5" fill="#000" fill-opacity="0.28" filter="url(#bl2)"/>
</g>
<rect x="34.9" y="178.6" width="42.1" height="13.300000000000011" fill="none" stroke="#333" stroke-width="1.05"/>
<rect x="34.4" y="194.0" width="43.1" height="14.300000000000011" fill="#d6d6d6" stroke="none" stroke-width="1"/>
<g clip-path="url(#cp5)">
<rect x="38" y="198.4" width="14.5" height="5" rx="2.5" fill="#000" fill-opacity="1.0" filter="url(#bl1)"/>
<rect x="58.5" y="198.4" width="16.0" height="5" rx="2.5" fill="#000" fill-opacity="1.0" filter="url(#bl1)"/>
</g>
<rect x="34.9" y="194.5" width="42.1" height="13.300000000000011" fill="none" stroke="#333" stroke-width="1.05"/>
<rect x="34.4" y="210.4" width="43.1" height="14.299999999999983" fill="#d2d2d2" stroke="none" stroke-width="1"/>
<g clip-path="url(#cp6)">
<rect x="38" y="214.70000000000002" width="14" height="4.2" rx="2.1" fill="#000" fill-opacity="0.72" filter="url(#bl1)"/>
<rect x="58" y="214.4" width="16" height="6" rx="3.0" fill="#000" fill-opacity="0.98" filter="url(#bl1)"/>
</g>
<rect x="34.9" y="210.9" width="42.1" height="13.299999999999983" fill="none" stroke="#333" stroke-width="1.05"/>
<rect x="34.4" y="226.4" width="43.1" height="14.199999999999989" fill="#d6d6d6" stroke="none" stroke-width="1"/>
<g clip-path="url(#cp7)">
<rect x="39" y="232.1" width="14" height="4.8" rx="2.4" fill="#000" fill-opacity="1.0" filter="url(#bl1)"/>
<rect x="59" y="231.9" width="14" height="4.8" rx="2.4" fill="#000" fill-opacity="1.0" filter="url(#bl1)"/>
</g>
<rect x="34.9" y="226.9" width="42.1" height="13.199999999999989" fill="none" stroke="#333" stroke-width="1.05"/>
<text x="80.8" y="188.0" font-size="8" text-anchor="start" textLength="16.4" lengthAdjust="spacingAndGlyphs" fill="#222" stroke="#222" stroke-width="0.2">Sox9</text>
<text x="80.8" y="203.8" font-size="8" text-anchor="start" textLength="27.4" lengthAdjust="spacingAndGlyphs" fill="#222" stroke="#222" stroke-width="0.2">GAPDH</text>
<text x="80.8" y="219.9" font-size="8" text-anchor="start" textLength="16.4" lengthAdjust="spacingAndGlyphs" fill="#222" stroke="#222" stroke-width="0.2">Sox9</text>
<text x="80.8" y="235.6" font-size="8" text-anchor="start" textLength="27.4" lengthAdjust="spacingAndGlyphs" fill="#222" stroke="#222" stroke-width="0.2">GAPDH</text>
<text x="29.3" y="193.7" font-size="6.8" text-anchor="middle" transform="rotate(-90 29.3 193.7)" textLength="18.6" lengthAdjust="spacingAndGlyphs" fill="#222" stroke="#222" stroke-width="0.2">pcDNA</text>
<text x="29.2" y="225.6" font-size="8.2" text-anchor="middle" transform="rotate(-90 29.2 225.6)" textLength="11.0" lengthAdjust="spacingAndGlyphs" fill="#222" stroke="#222" stroke-width="0.2">FVII</text>
<text x="47.5" y="250.0" font-size="6.45" text-anchor="end" transform="rotate(-45 47.5 250.0)" fill="#222" stroke="#222" stroke-width="0.2">con</text>
<text x="72.3" y="250.2" font-size="7.0" text-anchor="end" transform="rotate(-45 72.3 250.2)" fill="#222" stroke="#222" stroke-width="0.2">rFVIIa</text>
<rect x="147.0" y="195.3" width="80.69999999999999" height="21.399999999999977" fill="#eaeaea" stroke="none" stroke-width="1"/>
<g clip-path="url(#cp8)">
<rect x="148.6" y="206.35" width="14.900000000000006" height="2.7" rx="1.35" fill="#000" fill-opacity="0.5" filter="url(#bl1)"/>
<rect x="165.7" y="206.15" width="14.100000000000023" height="2.7" rx="1.35" fill="#000" fill-opacity="0.5" filter="url(#bl1)"/>
<rect x="181.8" y="206.05" width="13.599999999999994" height="2.7" rx="1.35" fill="#000" fill-opacity="0.55" filter="url(#bl1)"/>
<rect x="197.6" y="205.55" width="14.099999999999994" height="2.7" rx="1.35" fill="#000" fill-opacity="0.65" filter="url(#bl1)"/>
<rect x="214.5" y="204.85" width="11.900000000000006" height="2.7" rx="1.35" fill="#000" fill-opacity="0.4" filter="url(#bl1)"/>
</g>
<rect x="147.5" y="195.8" width="79.69999999999999" height="20.399999999999977" fill="none" stroke="#333" stroke-width="1.05"/>
<rect x="147.0" y="220.0" width="80.69999999999999" height="21.19999999999999" fill="#ececec" stroke="none" stroke-width="1"/>
<g clip-path="url(#cp9)">
<rect x="148.6" y="231.65" width="14.900000000000006" height="2.9" rx="1.45" fill="#000" fill-opacity="0.62" filter="url(#bl1)"/>
<rect x="165.7" y="230.95000000000002" width="14.100000000000023" height="2.9" rx="1.45" fill="#000" fill-opacity="0.65" filter="url(#bl1)"/>
<rect x="181.8" y="230.65" width="13.599999999999994" height="2.9" rx="1.45" fill="#000" fill-opacity="0.7" filter="url(#bl1)"/>
<rect x="197.6" y="229.55" width="14.099999999999994" height="2.9" rx="1.45" fill="#000" fill-opacity="0.8" filter="url(#bl1)"/>
<rect x="214.0" y="229.85000000000002" width="13.0" height="2.9" rx="1.45" fill="#000" fill-opacity="0.92" filter="url(#bl1)"/>
</g>
<rect x="147.5" y="220.5" width="79.69999999999999" height="20.19999999999999" fill="none" stroke="#333" stroke-width="1.05"/>
<rect x="230.8" y="195.3" width="83.0" height="21.399999999999977" fill="#e8e8e8" stroke="none" stroke-width="1"/>
<g clip-path="url(#cp10)">
<rect x="234.2" y="204.2" width="13.800000000000011" height="4.0" rx="2.0" fill="#000" fill-opacity="1.0" filter="url(#bl1)"/>
<rect x="249.2" y="204.4" width="13.800000000000011" height="4.0" rx="2.0" fill="#000" fill-opacity="0.95" filter="url(#bl1)"/>
<rect x="266.5" y="204.2" width="13.899999999999977" height="4.0" rx="2.0" fill="#000" fill-opacity="1.0" filter="url(#bl1)"/>
<rect x="282.7" y="204.0" width="12.699999999999989" height="4.0" rx="2.0" fill="#000" fill-opacity="1.0" filter="url(#bl1)"/>
<rect x="298.4" y="204.4" width="14.300000000000011" height="4.0" rx="2.0" fill="#000" fill-opacity="0.55" filter="url(#bl1)"/>
</g>
<rect x="231.3" y="195.8" width="82.0" height="20.399999999999977" fill="none" stroke="#333" stroke-width="1.05"/>
<rect x="230.8" y="220.0" width="83.0" height="21.19999999999999" fill="#ececec" stroke="none" stroke-width="1"/>
<g clip-path="url(#cp11)">
<rect x="233.7" y="231.35000000000002" width="14.800000000000011" height="2.9" rx="1.45" fill="#000" fill-opacity="0.66" filter="url(#bl1)"/>
<rect x="248.7" y="230.95000000000002" width="14.800000000000011" height="2.9" rx="1.45" fill="#000" fill-opacity="0.66" filter="url(#bl1)"/>
<rect x="266.0" y="230.55" width="14.899999999999977" height="2.9" rx="1.45" fill="#000" fill-opacity="0.6" filter="url(#bl1)"/>
<rect x="282.2" y="230.25" width="13.699999999999989" height="2.9" rx="1.45" fill="#000" fill-opacity="0.58" filter="url(#bl1)"/>
<rect x="297.9" y="229.85000000000002" width="15.300000000000011" height="2.9" rx="1.45" fill="#000" fill-opacity="0.64" filter="url(#bl1)"/>
</g>
<rect x="231.3" y="220.5" width="82.0" height="20.19999999999999" fill="none" stroke="#333" stroke-width="1.05"/>
<text x="316.6" y="208.5" font-size="8" text-anchor="start" textLength="16.8" lengthAdjust="spacingAndGlyphs" fill="#222" stroke="#222" stroke-width="0.2">Sox9</text>
<text x="316.9" y="233.2" font-size="8" text-anchor="start" textLength="27.4" lengthAdjust="spacingAndGlyphs" fill="#222" stroke="#222" stroke-width="0.2">GAPDH</text>
<text x="159.0" y="249.4" font-size="6.8" text-anchor="end" transform="rotate(-45 159.0 249.4)" fill="#222" stroke="#222" stroke-width="0.2">con</text>
<text x="174.5" y="249.4" font-size="7.8" text-anchor="end" transform="rotate(-45 174.5 249.4)" fill="#222" stroke="#222" stroke-width="0.2">GB83</text>
<text x="190.4" y="250.0" font-size="6.9" text-anchor="end" transform="rotate(-45 190.4 250.0)" fill="#222" stroke="#222" stroke-width="0.2">RWJ</text>
<text x="207.2" y="250.3" font-size="7.6" text-anchor="end" transform="rotate(-45 207.2 250.3)" fill="#222" stroke="#222" stroke-width="0.2">GB83/RWJ</text>
<text x="226.4" y="249.2" font-size="7.7" text-anchor="end" transform="rotate(-45 226.4 249.2)" fill="#222" stroke="#222" stroke-width="0.2">αEPCR</text>
<text x="244.2" y="249.8" font-size="6.8" text-anchor="end" transform="rotate(-45 244.2 249.8)" fill="#222" stroke="#222" stroke-width="0.2">con</text>
<text x="260.6" y="249.3" font-size="7.9" text-anchor="end" transform="rotate(-45 260.6 249.3)" fill="#222" stroke="#222" stroke-width="0.2">GB83</text>
<text x="276.2" y="250.0" font-size="6.9" text-anchor="end" transform="rotate(-45 276.2 250.0)" fill="#222" stroke="#222" stroke-width="0.2">RWJ</text>
<text x="293.0" y="249.4" font-size="7.6" text-anchor="end" transform="rotate(-45 293.0 249.4)" fill="#222" stroke="#222" stroke-width="0.2">GB83/RWJ</text>
<text x="312.3" y="249.0" font-size="7.8" text-anchor="end" transform="rotate(-45 312.3 249.0)" fill="#222" stroke="#222" stroke-width="0.2">αEPCR</text>
<rect x="33.9" y="346.1" width="77.80000000000001" height="22.19999999999999" fill="#ebebeb" stroke="none" stroke-width="1"/>
<g clip-path="url(#cp12)">
<rect x="37" y="356.05" width="16" height="3.5" rx="1.75" fill="#000" fill-opacity="0.6" filter="url(#bl1)"/>
<rect x="56" y="356.5" width="17" height="3.0" rx="1.5" fill="#000" fill-opacity="0.35" filter="url(#bl1)"/>
<rect x="76" y="354.8" width="16.5" height="4.0" rx="2.0" fill="#000" fill-opacity="1.0" filter="url(#bl1)"/>
<rect x="95" y="356.3" width="15" height="3.0" rx="1.5" fill="#000" fill-opacity="0.35" filter="url(#bl1)"/>
</g>
<rect x="34.4" y="346.6" width="76.80000000000001" height="21.19999999999999" fill="none" stroke="#333" stroke-width="1.05"/>
<rect x="33.9" y="371.1" width="77.80000000000001" height="17.5" fill="#e3e3e3" stroke="none" stroke-width="1"/>
<g clip-path="url(#cp13)">
<rect x="35.5" y="379.1" width="17.5" height="3.0" rx="1.5" fill="#000" fill-opacity="0.9" filter="url(#bl1)"/>
<rect x="55" y="379.7" width="17" height="2.6" rx="1.3" fill="#000" fill-opacity="0.35" filter="url(#bl1)"/>
<rect x="75.3" y="375.2" width="15.200000000000003" height="7.6" rx="3.8" fill="#000" fill-opacity="1.0" filter="url(#bl1)"/>
<rect x="89.5" y="377.9" width="21.0" height="4.0" rx="2.0" fill="#000" fill-opacity="0.95" filter="url(#bl1)"/>
</g>
<rect x="34.4" y="371.6" width="76.80000000000001" height="16.5" fill="none" stroke="#333" stroke-width="1.05"/>
<rect x="33.9" y="391.0" width="77.80000000000001" height="21.399999999999977" fill="#e6e6e6" stroke="none" stroke-width="1"/>
<g clip-path="url(#cp14)">
<rect x="35.5" y="399.35" width="17.5" height="4.5" rx="2.25" fill="#000" fill-opacity="1.0" filter="url(#bl1)"/>
<rect x="53" y="399.65" width="20" height="4.5" rx="2.25" fill="#000" fill-opacity="1.0" filter="url(#bl1)"/>
<rect x="73" y="399.15" width="19" height="4.5" rx="2.25" fill="#000" fill-opacity="1.0" filter="url(#bl1)"/>
<rect x="92" y="399.55" width="18.5" height="4.5" rx="2.25" fill="#000" fill-opacity="1.0" filter="url(#bl1)"/>
</g>
<rect x="34.4" y="391.5" width="76.80000000000001" height="20.399999999999977" fill="none" stroke="#333" stroke-width="1.05"/>
<rect x="117.4" y="346.2" width="42.79999999999998" height="21.19999999999999" fill="#c4c4c4" stroke="none" stroke-width="1"/>
<g clip-path="url(#cp15)">
<rect x="118" y="354.5" width="18" height="6" rx="3.0" fill="#000" fill-opacity="0.28" filter="url(#bl2)"/>
</g>
<rect x="117.9" y="346.7" width="41.79999999999998" height="20.19999999999999" fill="none" stroke="#333" stroke-width="1.05"/>
<rect x="117.4" y="391.1" width="42.79999999999998" height="21.19999999999999" fill="#e6e6e6" stroke="none" stroke-width="1"/>
<g clip-path="url(#cp16)">
<rect x="119.5" y="400.5" width="18.0" height="5.0" rx="2.5" fill="#000" fill-opacity="1.0" filter="url(#bl1)"/>
<rect x="140" y="400.5" width="17.5" height="5.0" rx="2.5" fill="#000" fill-opacity="1.0" filter="url(#bl1)"/>
</g>
<rect x="117.9" y="391.6" width="41.79999999999998" height="20.19999999999999" fill="none" stroke="#333" stroke-width="1.05"/>
<text x="162.6" y="359.3" font-size="8" text-anchor="start" textLength="16.6" lengthAdjust="spacingAndGlyphs" fill="#222" stroke="#222" stroke-width="0.2">Sox9</text>
<text x="162.8" y="382.1" font-size="8" text-anchor="start" textLength="14.8" lengthAdjust="spacingAndGlyphs" fill="#222" stroke="#222" stroke-width="0.2">Slug</text>
<text x="163.2" y="403.9" font-size="8" text-anchor="start" textLength="27.2" lengthAdjust="spacingAndGlyphs" fill="#222" stroke="#222" stroke-width="0.2">GAPDH</text>
<text x="45.9" y="422.2" font-size="7.4" text-anchor="end" transform="rotate(-45 45.9 422.2)" fill="#222" stroke="#222" stroke-width="0.2">con</text>
<text x="68.1" y="422.2" font-size="8.0" text-anchor="end" transform="rotate(-45 68.1 422.2)" fill="#222" stroke="#222" stroke-width="0.2">αEPCR</text>
<text x="83.0" y="422.2" font-size="7.35" text-anchor="end" transform="rotate(-45 83.0 422.2)" fill="#222" stroke="#222" stroke-width="0.2">con</text>
<text x="105.1" y="422.2" font-size="8.0" text-anchor="end" transform="rotate(-45 105.1 422.2)" fill="#222" stroke="#222" stroke-width="0.2">αEPCR</text>
<text x="133.6" y="422.5" font-size="7.2" text-anchor="end" transform="rotate(-45 133.6 422.5)" fill="#222" stroke="#222" stroke-width="0.2">con</text>
<text x="155.6" y="422.5" font-size="7.85" text-anchor="end" transform="rotate(-45 155.6 422.5)" fill="#222" stroke="#222" stroke-width="0.2">αEPCR</text>
</svg>
</body></html>
